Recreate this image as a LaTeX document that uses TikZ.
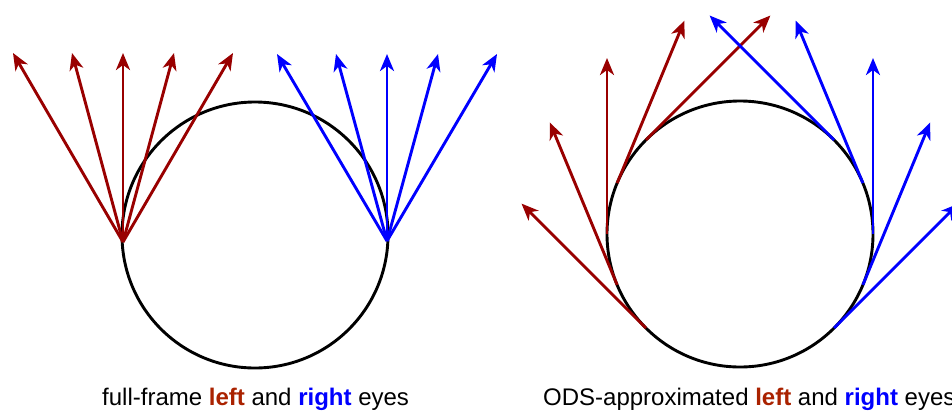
\documentclass[tikz,border=0pt]{standalone}
\usepackage{fontspec}
\setmainfont{Liberation Sans}
\usetikzlibrary{arrows.meta,calc}
\definecolor{eyered}{RGB}{153,0,0}
\definecolor{txtred}{RGB}{170,34,0}
\definecolor{eyeblue}{RGB}{0,0,255}
\begin{document}
\begin{tikzpicture}[x=1pt,y=-1pt,
  ray/.style={line width=2.9pt,-{Stealth[length=17pt,width=14pt,inset=5pt]}},
  ring/.style={draw=black,line width=2.9pt},
  caption/.style={font=\fontsize{24}{28}\selectfont,anchor=base west,inner sep=0pt}]
\useasboundingbox (0,0) rectangle (952,413);
\fill[white] (0,0) rectangle (952,413);
% circles
\coordinate (C1) at (255,235);
\coordinate (C2) at (740,234);
\draw[ring] (C1) circle[radius=133];
\draw[ring] (C2) circle[radius=133];
% full-frame eyes
\coordinate (L) at (123,242);
\coordinate (R) at (387,241);
\foreach \x [count=\i] in {13,72,123,174,233}{
  \coordinate (lt\i) at (\x,53);
  \draw[ray,eyered] (L) -- (lt\i);
}
\foreach \x [count=\i] in {277,336,387,438,497}{
  \coordinate (rt\i) at (\x,54);
  \draw[ray,eyeblue] (R) -- (rt\i);
}
% ODS eyes
\foreach \t [count=\i] in {225,202.5,180,157.5,135}{
  \coordinate (ob\i) at ($(C2)+(-\t:133)$);
  \coordinate (ot\i) at ($(ob\i)+(-\t+90:176)$);
  \draw[ray,eyered] (ob\i) -- (ot\i);
}
\foreach \t [count=\i] in {45,22.5,0,-22.5,-45}{
  \coordinate (pb\i) at ($(C2)+(-\t:133)$);
  \coordinate (pt\i) at ($(pb\i)+(-\t-90:176)$);
  \draw[ray,eyeblue] (pb\i) -- (pt\i);
}
% captions
\node[caption] (cap1) at (102,405) {full-frame \textbf{\color{txtred}left} and \textbf{\color{eyeblue}right} eyes};
\node[caption] (cap2) at (543,405) {ODS-approximated \textbf{\color{txtred}left} and \textbf{\color{eyeblue}right} eyes};
\end{tikzpicture}
\end{document}
